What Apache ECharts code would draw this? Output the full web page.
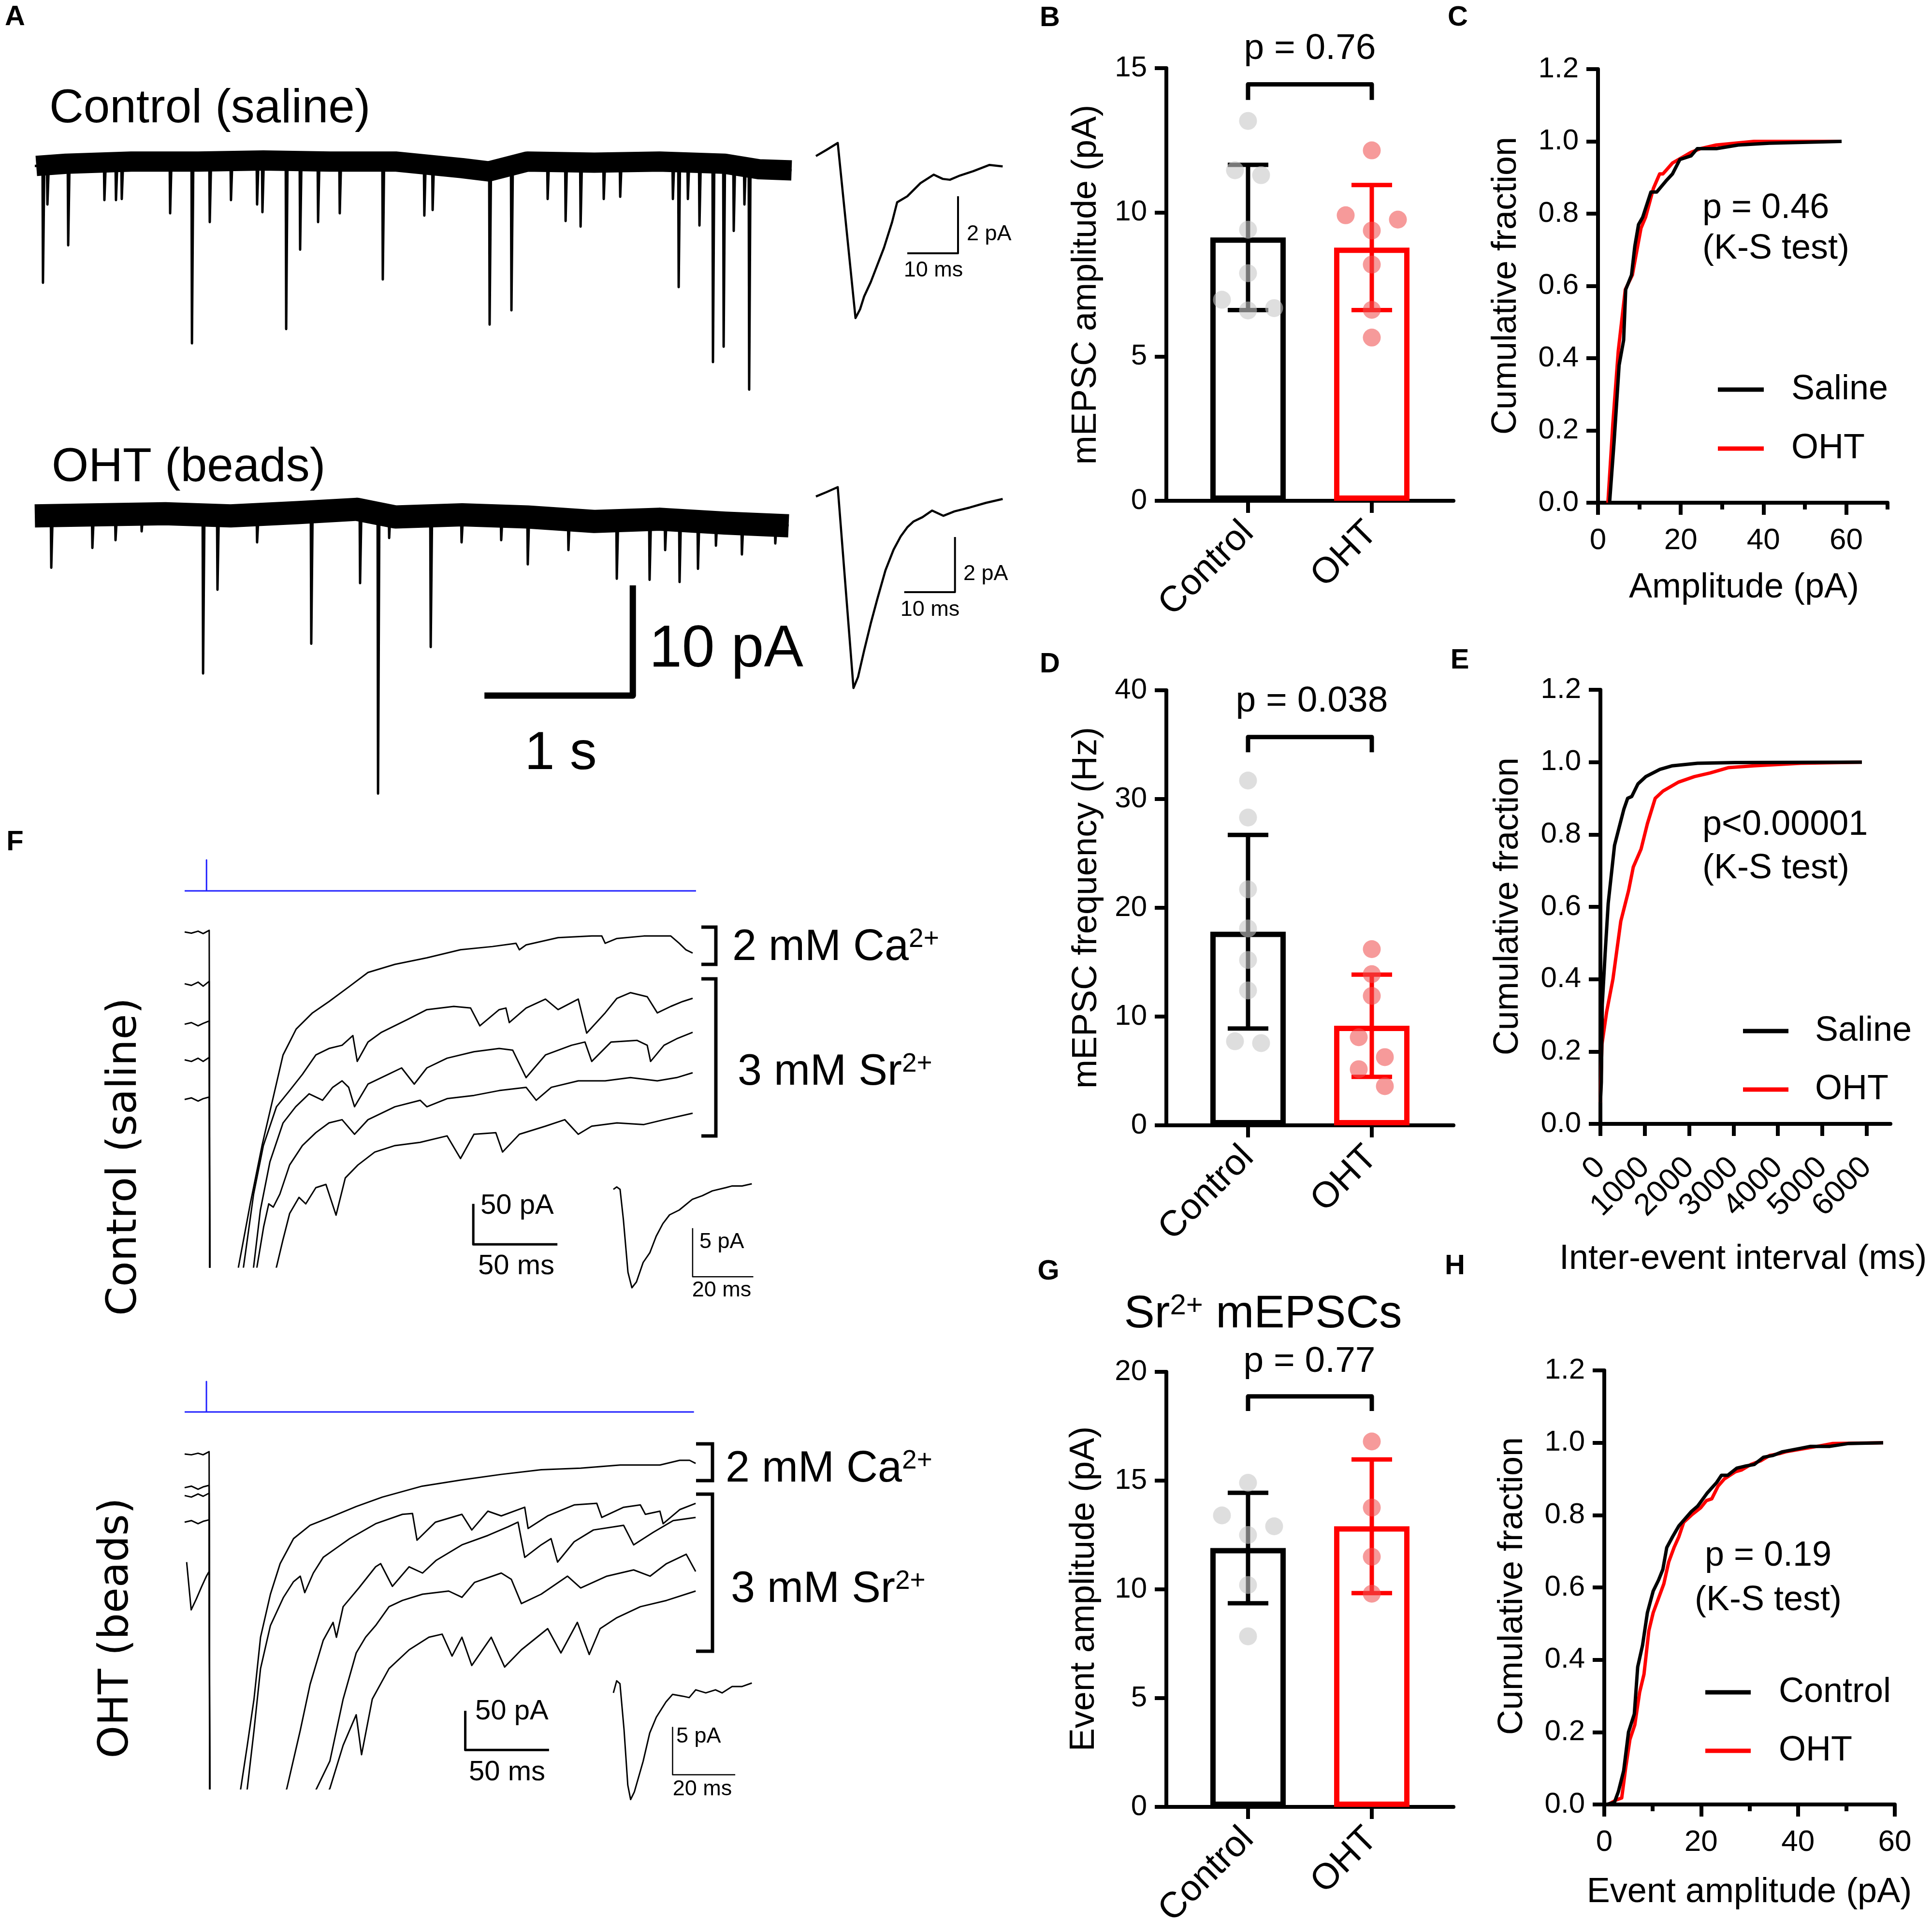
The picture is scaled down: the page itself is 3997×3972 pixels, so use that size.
<!DOCTYPE html>
<html>
<head>
<meta charset="utf-8">
<title>mEPSCs after ocular hypertension</title>
<script src="https://cdn.jsdelivr.net/npm/echarts@6.0.0/dist/echarts.min.js"></script>
<style>
html, body { margin: 0; padding: 0; background: #fff; }
#fig { width: 3997px; height: 3972px; }
</style>
</head>
<body>
<div id="fig"></div>
<script>
// ===== values =====
var groups = ['Control', 'OHT'];

// B  mEPSC amplitude (pA)
var ampMean = [9.13, 8.78];
var ampSd = [2.52, 2.17];
var ampCtl = [13.17, 11.46, 11.29, 9.40, 7.89, 6.97, 6.68, 6.60];
var ampOht = [12.15, 9.90, 9.75, 9.37, 8.19, 6.62, 5.66];
var ampTicks = [0, 5, 10, 15];

// D  mEPSC frequency (Hz)
var freqMean = [17.8, 9.16];
var freqSd = [8.9, 4.7];
var freqCtl = [31.7, 28.3, 21.7, 18.1, 15.2, 12.4, 7.73, 7.56];
var freqOht = [16.2, 13.9, 11.9, 8.1, 6.27, 5.16, 3.6];
var freqTicks = [0, 10, 20, 30, 40];

// G  Sr2+ event amplitude (pA)
var srMean = [11.9, 12.9];
var srSd = [2.54, 3.07];
var srCtl = [14.9, 13.4, 12.9, 12.5, 10.2, 7.84];
var srOht = [16.8, 13.76, 11.5, 9.8];
var srTicks = [0, 5, 10, 15, 20];

var pText = {B: 'p = 0.76', C: 'p = 0.46', D: 'p = 0.038', E: 'p<0.00001', G: 'p = 0.77', H: 'p = 0.19'};

// C, E, H  cumulative fraction, [x, fraction]
var fracTicks = [0, 0.2, 0.4, 0.6, 0.8, 1.0, 1.2];
var ampXTicks = [0, 20, 40, 60];
var ieiXTicks = [0, 1000, 2000, 3000, 4000, 5000, 6000];
var cdfAmpSaline = [[2.8,0],[3.9,0.17],[5.1,0.38],[6.2,0.45],[6.7,0.59],[8.1,0.63],[8.9,0.71],[9.8,0.77],[10.8,0.79],[12.8,0.86],[14.2,0.86],[16.4,0.89],[18.0,0.91],[19.8,0.95],[22.5,0.96],[24.0,0.98],[28.6,0.98],[33.9,0.99],[41.4,0.995],[58.9,1.0]];
var cdfAmpOht = [[2.4,0],[3.6,0.22],[4.9,0.42],[6.6,0.59],[8.3,0.63],[10.4,0.76],[11.5,0.79],[13.4,0.87],[14.9,0.91],[15.7,0.91],[18.0,0.94],[21.0,0.96],[22.5,0.97],[24.8,0.98],[28.6,0.99],[37.7,1.0],[58.9,1.0]];
var cdfIeiSaline = [[0,0.06],[21,0.115],[42,0.33],[106,0.47],[176,0.61],[318,0.77],[423,0.82],[529,0.87],[614,0.90],[706,0.905],[847,0.94],[1023,0.96],[1341,0.98],[1623,0.99],[2188,0.997],[3035,0.999],[5893,1.0]];
var cdfIeiOht = [[0,0.06],[35,0.22],[141,0.31],[282,0.40],[459,0.56],[635,0.645],[741,0.71],[917,0.76],[1059,0.83],[1235,0.90],[1411,0.92],[1764,0.945],[2117,0.96],[2470,0.97],[2893,0.985],[3458,0.99],[4517,0.997],[5893,1.0]];
var cdfSrCtl = [[0.45,0],[2.1,0.006],[2.9,0.035],[4.0,0.093],[5.0,0.20],[6.2,0.25],[6.9,0.38],[7.9,0.44],[8.9,0.53],[10.1,0.59],[11.2,0.62],[12.1,0.65],[12.9,0.71],[14.1,0.74],[15.4,0.77],[16.7,0.79],[18.0,0.81],[19.3,0.825],[21.2,0.86],[23.2,0.89],[24.2,0.91],[25.5,0.91],[27.4,0.93],[29.0,0.935],[31.0,0.94],[32.9,0.96],[34.9,0.965],[36.8,0.975],[40.7,0.985],[42.6,0.99],[46.6,0.99],[50.5,0.998],[57.6,1.0]];
var cdfSrOht = [[0.8,0],[2.4,0.012],[3.6,0.018],[4.4,0.099],[5.3,0.18],[6.3,0.22],[7.3,0.31],[8.2,0.36],[9.2,0.48],[10.1,0.53],[11.2,0.57],[12.3,0.61],[13.3,0.67],[14.4,0.71],[15.4,0.74],[16.4,0.78],[18.0,0.80],[19.9,0.82],[21.1,0.84],[22.2,0.845],[23.5,0.88],[24.8,0.90],[27.1,0.92],[28.4,0.925],[30.3,0.94],[32.3,0.95],[34.2,0.965],[36.2,0.97],[37.5,0.975],[44.0,0.99],[47.2,0.998],[57.6,1.0]];

// A  5 s sweeps: level of the noise band and event peaks [s, pA]
var ctlBand = [[0.01,-0.1],[0.21,0.1],[0.65,0.3],[1.10,0.3],[1.54,0.4],[1.99,0.3],[2.43,0.3],[2.88,-0.3],[3.06,-0.6],[3.32,0.3],[3.77,0.2],[4.21,0.3],[4.65,0.1],[4.88,-0.4],[5.10,-0.5]];
var ctlEvents = [[0.055,-10.7],[0.085,-3.6],[0.225,-7.3],[0.469,-3.2],[0.547,-3.2],[0.586,-3.1],[0.912,-4.4],[1.059,-16.2],[1.179,-5.2],[1.322,-3.2],[1.498,-3.6],[1.534,-4.3],[1.694,-14.9],[1.788,-7.7],[1.909,-5.2],[2.055,-4.4],[2.345,-10.4],[2.625,-4.6],[2.681,-4.1],[3.065,-14.5],[3.212,-13.2],[3.456,-3.1],[3.577,-5.1],[3.678,-5.6],[3.834,-3.1],[3.945,-2.9],[4.300,-3.1],[4.339,-11.1],[4.401,-3.1],[4.479,-5.5],[4.570,-17.9],[4.642,-16.5],[4.710,-6.0],[4.782,-3.6],[4.814,-20.4]];
var ohtBand = [[0,-0.1],[0.43,0],[0.88,0.1],[1.32,-0.1],[1.77,0.2],[2.17,0.5],[2.43,-0.2],[2.88,0],[3.32,-0.2],[3.77,-0.6],[4.21,-0.4],[4.65,-0.75],[5.08,-1.0]];
var ohtEvents = [[0.111,-4.8],[0.388,-3.0],[0.544,-2.3],[0.720,-1.5],[1.134,-14.4],[1.231,-6.8],[1.498,-2.5],[1.863,-11.7],[2.192,-6.2],[2.313,-25.3],[2.388,-2.1],[2.668,-12.0],[2.876,-2.5],[3.143,-2.3],[3.322,-4.5],[3.596,-3.2],[3.922,-5.8],[4.143,-5.9],[4.248,-3.2],[4.345,-6.1],[4.469,-4.9],[4.590,-2.8],[4.765,-3.6],[4.990,-2.6]];
// A  averaged events [ms, pA]
var ctlAvg = [[0,0.12],[2.1,0.34],[4.3,0.58],[7.8,-5.56],[8.7,-5.25],[9.5,-4.8],[10.8,-4.3],[12.1,-3.7],[13.4,-3.1],[15.0,-2.2],[16.0,-1.5],[18.0,-1.29],[20.6,-0.83],[23.2,-0.53],[25.0,-0.68],[26.4,-0.71],[28.4,-0.56],[31.0,-0.41],[34.2,-0.19],[36.8,-0.24]];
var ohtAvg = [[0,0.05],[2.1,0.21],[4.3,0.39],[7.4,-6.9],[8.3,-6.5],[9.5,-5.54],[10.8,-4.56],[12.1,-3.67],[13.7,-2.63],[15.3,-1.88],[16.7,-1.4],[18.0,-1.07],[19.2,-0.86],[21.0,-0.7],[22.9,-0.46],[25.1,-0.65],[27.3,-0.49],[30.3,-0.35],[33.5,-0.18],[36.8,-0.04]];

// F  evoked sweeps [ms, pA]: 2 mM Ca2+ sweep, then four 3 mM Sr2+ sweeps (-700 = off scale)
var fStim = [[0,0],[13,0],[13,1],[13,0],[304,0]];
var fCtlCa = [[0,0],[4,-1.5],[8,1],[11,-2],[14.6,2],[15.3,-700],[32,-414],[39,-336],[46,-264],[52.7,-204],[58.5,-152],[66.3,-120],[76,-100],[85.8,-86],[97.5,-68],[109,-50],[125,-40],[144,-32],[164,-22],[183,-18],[197,-14],[199,-22],[203,-16],[222,-7],[242,-5],[248,-5],[250,-14],[257,-8],[273,-5],[289,-5],[294,-14],[298,-22],[302,-26]];
var fCtlSr = [
  [[0,-64],[4,-66],[8,-62],[11,-67],[14.6,-61],[15.3,-700],[35,-414],[41,-324],[46.8,-264],[54.6,-216],[62.4,-196],[70,-176],[78,-152],[85.8,-144],[93.6,-140],[100,-128],[102.6,-160],[109,-136],[117,-124],[132.6,-108],[144,-96],[160,-92],[170,-94],[175.5,-116],[187,-96],[191,-94],[193,-112],[203,-94],[214.5,-83],[222,-96],[234,-83],[239,-125],[250,-100],[257,-82],[265,-75],[275,-80],[281,-100],[289,-92],[296,-86],[302,-82]],
  [[0,-114],[4,-112],[8,-116],[11,-113],[14.6,-110],[15.3,-700],[41,-414],[45,-344],[50.7,-284],[58.5,-236],[66,-216],[74,-200],[82,-208],[88,-192],[93.6,-184],[97.5,-192],[101,-216],[109,-188],[121,-176],[129,-168],[136.5,-188],[144,-168],[156,-156],[172,-148],[187,-144],[195,-146],[203,-180],[214.5,-152],[230,-140],[238,-136],[242,-160],[253.5,-136],[269,-134],[275,-140],[277,-160],[285,-140],[292.5,-132],[302,-124]],
  [[0,-158],[4,-160],[8,-156],[11,-160],[14.6,-155],[15.3,-700],[43,-414],[47,-364],[50,-336],[52.7,-340],[56.6,-324],[62.4,-288],[70,-264],[78,-248],[85.8,-236],[93.6,-232],[101,-250],[109,-232],[125,-216],[140,-208],[144,-216],[156,-206],[172,-202],[187,-196],[203,-192],[209,-208],[218,-192],[234,-184],[250,-184],[265,-180],[281,-184],[292.5,-180],[302,-174]],
  [[0,-207],[4,-205],[8,-209],[11,-206],[14.6,-204],[15.3,-700],[54.6,-414],[58.5,-380],[62.4,-348],[68,-328],[72,-336],[78,-316],[84,-312],[90,-350],[95.5,-304],[103,-288],[113,-272],[125,-264],[140,-260],[156,-252],[164,-280],[172,-250],[185,-248],[189,-272],[199,-250],[214.5,-240],[226,-232],[234,-250],[242,-240],[257,-236],[273,-238],[285,-232],[302,-224]]
];
var fOhtCa = [[0,0],[4,-1],[8,1],[11,-1],[14.6,3],[15.3,-700],[33.5,-427],[37.4,-372],[41.4,-313],[45.3,-234],[51.2,-179],[57,-140],[65,-108],[74.9,-91],[86.7,-81],[102.4,-67],[118,-55],[141.8,-41],[165.5,-33],[189,-26],[212.8,-20],[236.4,-18],[260,-14],[283.7,-14],[295.5,-8],[301.4,-8],[305,-12]];
var fOhtSr = [
  [[0,-43],[4,-41],[8,-45],[11,-42],[14.6,-40],[15.3,-700],[37.4,-427],[41.4,-353],[45.3,-274],[51.2,-219],[59,-183],[65,-163],[69,-156],[71.7,-177],[76.8,-152],[82.7,-132],[90.6,-120],[98.5,-108],[114,-89],[130,-77],[136,-76],[138.7,-110],[149.7,-87],[165.5,-77],[171.4,-97],[181,-73],[189,-79],[203,-68],[205,-95],[216.7,-79],[232.5,-65],[246,-63],[249,-81],[262,-68],[272,-65],[275,-77],[283.7,-73],[285.6,-89],[295.5,-71],[305,-63]],
  [[0,-53],[4,-55],[8,-51],[11,-54],[14.6,-50],[15.3,-700],[61,-427],[69,-353],[74.9,-294],[82.7,-238],[88.6,-215],[90.6,-234],[94.6,-195],[104,-171],[114,-144],[117,-140],[124,-169],[134,-144],[142,-152],[150,-136],[165.5,-116],[181,-104],[193,-93],[199,-87],[203,-132],[212.8,-116],[218.7,-108],[222.6,-138],[232.5,-112],[244,-97],[262,-91],[268,-116],[279.7,-100],[291.6,-85],[305,-81]],
  [[0,-87],[4,-85],[8,-89],[11,-86],[14.6,-84],[15.3,-700],[78.8,-427],[86.7,-392],[94.6,-313],[102.4,-254],[108,-234],[114,-219],[122,-195],[130,-187],[142,-179],[157.6,-175],[165.5,-183],[173,-164],[189,-152],[195,-160],[201,-191],[212.8,-179],[228.5,-156],[236.4,-171],[252,-156],[268,-148],[277.8,-156],[287.6,-140],[299.4,-128],[305,-150]],
  [[1.2,-138],[3.9,-199],[7,-185],[10,-170],[13,-156],[14.6,-150],[15.3,-700],[86.7,-427],[94.6,-372],[102.4,-333],[105.6,-384],[112,-313],[122,-274],[134,-250],[145.8,-234],[153.7,-230],[159.6,-258],[165.5,-234],[171.4,-270],[183,-234],[191,-272],[201,-250],[216.7,-223],[224.6,-254],[234.4,-215],[241.5,-256],[248,-223],[258,-209],[272,-195],[287.6,-187],[305,-175]]
];
// F  averaged Sr2+ events [ms, pA]
var fCtlAvg = [[0,-0.17],[1.1,0.07],[2.2,-0.17],[3.3,-3.3],[4.8,-8.7],[6.1,-10.3],[7.6,-9.7],[9.8,-7.7],[12,-6.7],[14.1,-5],[16.3,-3.7],[18.5,-2.8],[21.7,-2.3],[26,-1.2],[29.3,-0.83],[32.6,-0.33],[37,0],[39,0.17],[42.4,0.17],[45.6,0.4]];
var fOhtAvg = [[0,-0.16],[1.05,1.1],[2.1,0.8],[3.4,-4.0],[4.6,-9.8],[5.5,-11.3],[6.7,-10.5],[9.5,-7.3],[11.6,-4.35],[13.7,-2.7],[16.8,-1.1],[18.9,-0.32],[22.1,-0.5],[24.2,-0.65],[26.3,0.16],[29.5,-0.16],[32.6,0.16],[34.7,-0.16],[37.9,0.5],[41,0.5],[44.2,0.87]];

// ===== layout =====
var FONT = "'Liberation Sans', Arial, Helvetica, sans-serif";
var WIDE = "'DejaVu Sans', Verdana, sans-serif";
var RED = '#ff0000';
var BLUE = '#1f1fff';
var AXW = 8;
var BAR_X = 2413, BAR_W = 594, CAT_MIN = -0.66, CAT_MAX = 1.66;
var DOT_STEP = 54 / 256;

var grids = [], xAxes = [], yAxes = [], series = [], gfx = [];

function newGrid(left, top, width, height) {
    grids.push({left: left, top: top, width: width, height: height, outerBoundsMode: 'none'});
    return grids.length - 1;
}
function addX(o) { xAxes.push(o); return xAxes.length - 1; }
function addY(o) { yAxes.push(o); return yAxes.length - 1; }

var axLine = {show: true, onZero: false, lineStyle: {color: '#000', width: AXW}};
function tickStyle(len, vals) {
    var t = {show: true, length: len, lineStyle: {color: '#000', width: AXW}};
    if (vals) t.customValues = vals;
    return t;
}

// hidden axes for a trace panel: origin pixel, pixels per unit, ranges
function traceGrid(o, k, xr, yr) {
    var g = newGrid(o[0] + xr[0] * k[0], o[1] - yr[1] * k[1], (xr[1] - xr[0]) * k[0], (yr[1] - yr[0]) * k[1]);
    var xi = addX({gridIndex: g, type: 'value', min: xr[0], max: xr[1], show: false});
    var yi = addY({gridIndex: g, type: 'value', min: yr[0], max: yr[1], show: false});
    return [xi, yi];
}
function line(ax, data, width, color, z) {
    series.push({type: 'line', xAxisIndex: ax[0], yAxisIndex: ax[1], data: data, showSymbol: false, symbol: 'none',
        clip: true, silent: true, z: z || 2, lineStyle: {color: color || '#000', width: width, join: 'round'}});
}

// spread dots lying within about one dot of each other into a row
function swarm(vals, pxPerUnit) {
    var order = vals.map(function (v, i) { return i; }).sort(function (a, b) { return vals[a] - vals[b]; });
    var off = vals.map(function () { return 0; });
    var rows = [], row = [];
    order.forEach(function (i) {
        if (row.length && (vals[i] - vals[row[0]]) * pxPerUnit >= 42) { rows.push(row); row = []; }
        row.push(i);
    });
    rows.push(row);
    rows.forEach(function (r) {
        var slots = r.length % 2 ? [0, 1, -1, 2, -2] : [0.5, -0.5, 1.5, -1.5];
        r.forEach(function (i, j) { off[i] = slots[j] * DOT_STEP; });
    });
    return off;
}

function barPanel(top, height, yTicks, mean, sd, ctl, oht, bracket) {
    var g = newGrid(BAR_X, top, BAR_W, height);
    var yMax = yTicks[yTicks.length - 1];
    var xi = addX({gridIndex: g, type: 'value', min: CAT_MIN, max: CAT_MAX, position: 'bottom',
        axisLine: axLine, axisTick: tickStyle(25, [0, 1]),
        axisLabel: {customValues: [0, 1], rotate: 45, margin: 55, color: '#000', fontSize: 75, fontFamily: FONT,
            formatter: function (v) { return groups[Math.round(v)]; }},
        splitLine: {show: false}});
    var yi = addY({gridIndex: g, type: 'value', min: 0, max: yMax, interval: yTicks[1] - yTicks[0],
        axisLine: axLine, axisTick: tickStyle(24),
        axisLabel: {margin: 40, color: '#000', fontSize: 60, fontFamily: FONT}, splitLine: {show: false}});
    series.push({type: 'bar', xAxisIndex: xi, yAxisIndex: yi, barWidth: 156, z: 2, silent: true,
        itemStyle: {color: 'rgba(255,255,255,0)', borderWidth: 11},
        data: mean.map(function (m, i) { return {value: [i, m], itemStyle: {borderColor: i ? RED : '#000'}}; })});
    // mean +/- SD
    series.push({type: 'custom', xAxisIndex: xi, yAxisIndex: yi, z: 3, silent: true,
        encode: {x: 0, y: [1, 2]},
        data: mean.map(function (m, i) { return [i, m - sd[i], m + sd[i]]; }),
        renderItem: function (params, api) {
            var lo = api.coord([api.value(0), api.value(1)]);
            var hi = api.coord([api.value(0), api.value(2)]);
            var st = {stroke: params.dataIndex ? RED : '#000', lineWidth: 9};
            return {type: 'group', children: [
                {type: 'line', shape: {x1: lo[0], y1: lo[1], x2: hi[0], y2: hi[1]}, style: st},
                {type: 'line', shape: {x1: lo[0] - 42, y1: lo[1], x2: lo[0] + 42, y2: lo[1]}, style: st},
                {type: 'line', shape: {x1: hi[0] - 42, y1: hi[1], x2: hi[0] + 42, y2: hi[1]}, style: st}
            ]};
        }});
    [ctl, oht].forEach(function (vals, i) {
        var off = swarm(vals, height / yMax);
        series.push({type: 'scatter', xAxisIndex: xi, yAxisIndex: yi, symbolSize: 37, z: 4, silent: true,
            itemStyle: {color: i ? 'rgba(240,80,80,0.72)' : 'rgba(200,200,200,0.75)'},
            data: vals.map(function (v, k) { return [i + off[k], v]; })});
    });
    line([xi, yi], [[0, bracket[0]], [0, bracket[1]], [1, bracket[1]], [1, bracket[0]]], 9, '#000', 3);
}

function cdfPanel(left, top, width, height, xMax, xTicks, minor, rotate, black, red) {
    var g = newGrid(left, top, width, height);
    var xi = addX({gridIndex: g, type: 'value', min: 0, max: xMax, position: 'bottom',
        axisLine: axLine, axisTick: tickStyle(25, xTicks),
        axisLabel: {customValues: xTicks, rotate: rotate, margin: rotate ? 80 : 48, color: '#000',
            fontSize: rotate ? 64 : 62, fontFamily: FONT, interval: 0, hideOverlap: false,
            showMinLabel: true, showMaxLabel: true,
            formatter: function (v) { return String(v); }},
        splitLine: {show: false}});
    if (minor) {
        addX({gridIndex: g, type: 'value', min: 0, max: xMax, position: 'bottom', offset: 0,
            axisLine: {show: false}, axisTick: tickStyle(14, minor), axisLabel: {show: false}, splitLine: {show: false}});
    }
    var yi = addY({gridIndex: g, type: 'value', min: 0, max: 1.2, interval: 0.2,
        axisLine: axLine, axisTick: tickStyle(24),
        axisLabel: {margin: 40, color: '#000', fontSize: 60, fontFamily: FONT,
            formatter: function (v) { return v.toFixed(1); }},
        splitLine: {show: false}});
    line([xi, yi], red, 7, RED, 3);
    line([xi, yi], black, 7, '#000', 4);
}

function sweepLine(band, events, tEnd) {
    var pts = [[0, band[0][1]]];
    events.forEach(function (e) {
        var base = band[0][1];
        band.forEach(function (b) { if (b[0] <= e[0]) base = b[1]; });
        pts.push([e[0] - 0.003, base], [e[0], e[1]], [e[0] + 0.009, base]);
    });
    pts.push([tEnd, band[band.length - 1][1]]);
    return pts;
}

// text helpers
function txt(x, y, text, size, opt) {
    opt = opt || {};
    var al = opt.align || 'left';
    var st = {text: text, fill: '#000', font: (opt.bold ? 'bold ' : '') + size + 'px ' + (opt.family || FONT),
        align: al, verticalAlign: 'middle', textAlign: al, textVerticalAlign: 'middle'};
    if (opt.rich) st.rich = opt.rich;
    gfx.push({type: 'text', x: x, y: y, rotation: opt.rot || 0, z: 50, silent: true, style: st});
}
function supTxt(x, y, parts, size, supSize, align) {
    txt(x, y, parts, size, {align: align, rich: {
        a: {fontSize: size, fontFamily: FONT, fill: '#000'},
        s: {fontSize: supSize, fontFamily: FONT, fill: '#000', verticalAlign: 'top'}}});
}
function seg(x1, y1, x2, y2, w, c) {
    gfx.push({type: 'line', z: 50, silent: true, shape: {x1: x1, y1: y1, x2: x2, y2: y2}, style: {stroke: c, lineWidth: w}});
}
function bracketRight(x1, x2, y1, y2) {
    gfx.push({type: 'polyline', z: 50, silent: true, shape: {points: [[x1, y1], [x2, y1], [x2, y2], [x1, y2]]},
        style: {stroke: '#000', lineWidth: 7, fill: null}});
}

// ===== panel A =====
var a1 = traceGrid([72, 341], [307, 22.8], [0, 5.12], [-21.5, 2.5]);
line(a1, ctlBand, 42);
line(a1, sweepLine(ctlBand, ctlEvents, 5.1), 5);
var a2 = traceGrid([72, 1065], [307, 22.8], [0, 5.12], [-26.5, 2.5]);
line(a2, ohtBand, 48);
line(a2, sweepLine(ohtBand, ohtEvents, 5.08), 5);
line(a2, [[3.03, -16.4], [4.03, -16.4], [4.03, -6.4]], 13);          // 1 s, 10 pA
var a1i = traceGrid([1688, 330], [10.5, 59], [0, 37.5], [-6.2, 0.9]);
line(a1i, ctlAvg, 4.5);
line(a1i, [[18, -3.29], [28, -3.29], [28, -1.29]], 4);              // 10 ms, 2 pA
var a2i = traceGrid([1688, 1030], [10.5, 57], [0, 37.5], [-7.4, 0.7]);
line(a2i, ohtAvg, 4.5);
line(a2i, [[17.4, -3.42], [27.4, -3.42], [27.4, -1.42]], 4);

txt(31, 36, 'A', 58, {bold: true, align: 'center'});
txt(102, 226, 'Control (saline)', 98);
txt(107, 968, 'OHT (beads)', 98);
txt(1343, 1345, '10 pA', 122);
txt(1160, 1560, '1 s', 112, {align: 'center'});
txt(2000, 485, '2 pA', 45);
txt(1931, 560, '10 ms', 45, {align: 'center'});
txt(1993, 1188, '2 pA', 45);
txt(1924, 1262, '10 ms', 45, {align: 'center'});

// ===== panel F =====
var f1s = traceGrid([382, 1843], [3.48, 64], [0, 304], [-0.1, 1.05]);
line(f1s, fStim, 3, BLUE);
var f1 = traceGrid([382, 1928], [3.48, 1.674], [0, 304], [-414, 20]);
line(f1, fCtlCa, 3);
fCtlSr.forEach(function (s) { line(f1, s, 3); });
line(f1, [[171.6, -336], [171.6, -386], [221.6, -386]], 5);        // 50 pA, 50 ms
var f1i = traceGrid([1269, 2457], [6.28, 20.1], [0, 47], [-11.5, 1.2]);
line(f1i, fCtlAvg, 3);
line(f1i, [[26.1, -4.17], [26.1, -9.17], [46.1, -9.17]], 2.5);      // 5 pA, 20 ms

var f2s = traceGrid([382, 2921], [3.466, 63], [0, 305], [-0.1, 1.05]);
line(f2s, fStim, 3, BLUE);
var f2 = traceGrid([382, 3008], [3.466, 1.62], [0, 305], [-427.5, 20]);
line(f2, fOhtCa, 3);
fOhtSr.forEach(function (s) { line(f2, s, 3); });
line(f2, [[167.5, -328], [167.5, -378], [217.5, -378]], 5);
var f2i = traceGrid([1269, 3499], [6.48, 19.8], [0, 45], [-12, 1.2]);
line(f2i, fOhtAvg, 3);
line(f2i, [[18.9, -3.71], [18.9, -8.71], [38.9, -8.71]], 2.5);

txt(31, 1743, 'F', 58, {bold: true, align: 'center'});
txt(259, 2393, 'Control (saline)', 86, {align: 'center', rot: Math.PI / 2, family: WIDE});
txt(242, 3368, 'OHT (beads)', 86, {align: 'center', rot: Math.PI / 2, family: WIDE});
bracketRight(1451, 1481, 1918, 1995);
bracketRight(1451, 1481, 2025, 2350);
bracketRight(1440, 1474, 2987, 3063);
bracketRight(1440, 1474, 3091, 3416);
supTxt(1515, 1961, '{a|2 mM Ca}{s|2+}', 90, 55);
supTxt(1526, 2219, '{a|3 mM Sr}{s|2+}', 90, 55);
supTxt(1501, 3040, '{a|2 mM Ca}{s|2+}', 90, 55);
supTxt(1512, 3289, '{a|3 mM Sr}{s|2+}', 90, 55);
txt(994, 2495, '50 pA', 58);
txt(1068, 2620, '50 ms', 58, {align: 'center'});
txt(983, 3541, '50 pA', 58);
txt(1049, 3667, '50 ms', 58, {align: 'center'});
txt(1447, 2570, '5 pA', 45);
txt(1493, 2670, '20 ms', 45, {align: 'center'});
txt(1399, 3593, '5 pA', 45);
txt(1453, 3702, '20 ms', 45, {align: 'center'});

// ===== bar panels B, D, G =====
barPanel(141, 895, ampTicks, ampMean, ampSd, ampCtl, ampOht, [13.9, 14.44]);
barPanel(1428, 900, freqTicks, freqMean, freqSd, freqCtl, freqOht, [34.3, 35.7]);
barPanel(2838, 900, srTicks, srMean, srSd, srCtl, srOht, [18.2, 18.87]);

txt(2172, 38, 'B', 58, {bold: true, align: 'center'});
txt(2710, 101, pText.B, 75, {align: 'center'});
txt(2247, 589, 'mEPSC amplitude (pA)', 72, {align: 'center', rot: Math.PI / 2});
txt(2172, 1375, 'D', 58, {bold: true, align: 'center'});
txt(2714, 1451, pText.D, 75, {align: 'center'});
txt(2248, 1878, 'mEPSC frequency (Hz)', 72, {align: 'center', rot: Math.PI / 2});
txt(2169, 2631, 'G', 58, {bold: true, align: 'center'});
supTxt(2613, 2720, '{a|Sr}{s|2+}{a| mEPSCs}', 95, 60, 'center');
txt(2709, 2817, pText.G, 75, {align: 'center'});
txt(2243, 3287, 'Event amplitude (pA)', 72, {align: 'center', rot: Math.PI / 2});

// ===== cumulative panels C, E, H =====
cdfPanel(3306, 143, 599, 897, 70, ampXTicks, [10, 30, 50, 70], 0, cdfAmpSaline, cdfAmpOht);
cdfPanel(3311, 1427, 600, 898, 6536, ieiXTicks, null, 45, cdfIeiSaline, cdfIeiOht);
cdfPanel(3319, 2835, 601, 898, 60, ampXTicks, [10, 30, 50], 0, cdfSrCtl, cdfSrOht);

txt(3016, 37, 'C', 58, {bold: true, align: 'center'});
txt(3522, 431, pText.C, 72);
txt(3522, 515, '(K-S test)', 72);
seg(3554, 806, 3649, 806, 9, '#000');
seg(3554, 928, 3649, 928, 9, RED);
txt(3706, 806, 'Saline', 72);
txt(3706, 928, 'OHT', 72);
txt(3116, 591, 'Cumulative fraction', 72, {align: 'center', rot: Math.PI / 2});
txt(3608, 1216, 'Amplitude (pA)', 72, {align: 'center'});

txt(3020, 1367, 'E', 58, {bold: true, align: 'center'});
txt(3522, 1707, pText.E, 72);
txt(3522, 1797, '(K-S test)', 72);
seg(3606, 2133, 3700, 2133, 9, '#000');
seg(3606, 2254, 3700, 2254, 9, RED);
txt(3755, 2133, 'Saline', 72);
txt(3755, 2254, 'OHT', 72);
txt(3120, 1875, 'Cumulative fraction', 72, {align: 'center', rot: Math.PI / 2});
txt(3606, 2605, 'Inter-event interval (ms)', 72, {align: 'center'});

txt(3010, 2620, 'H', 58, {bold: true, align: 'center'});
txt(3658, 3219, pText.H, 72, {align: 'center'});
txt(3658, 3311, '(K-S test)', 72, {align: 'center'});
seg(3528, 3501, 3622, 3501, 9, '#000');
seg(3528, 3622, 3622, 3622, 9, RED);
txt(3680, 3501, 'Control', 72);
txt(3680, 3622, 'OHT', 72);
txt(3129, 3281, 'Cumulative fraction', 72, {align: 'center', rot: Math.PI / 2});
txt(3619, 3915, 'Event amplitude (pA)', 72, {align: 'center'});

var chart = echarts.init(document.getElementById('fig'), null, {renderer: 'canvas', width: 3997, height: 3972});
chart.setOption({
    animation: false,
    backgroundColor: '#fff',
    grid: grids,
    xAxis: xAxes,
    yAxis: yAxes,
    series: series,
    graphic: {elements: gfx}
});
</script>
</body>
</html>
